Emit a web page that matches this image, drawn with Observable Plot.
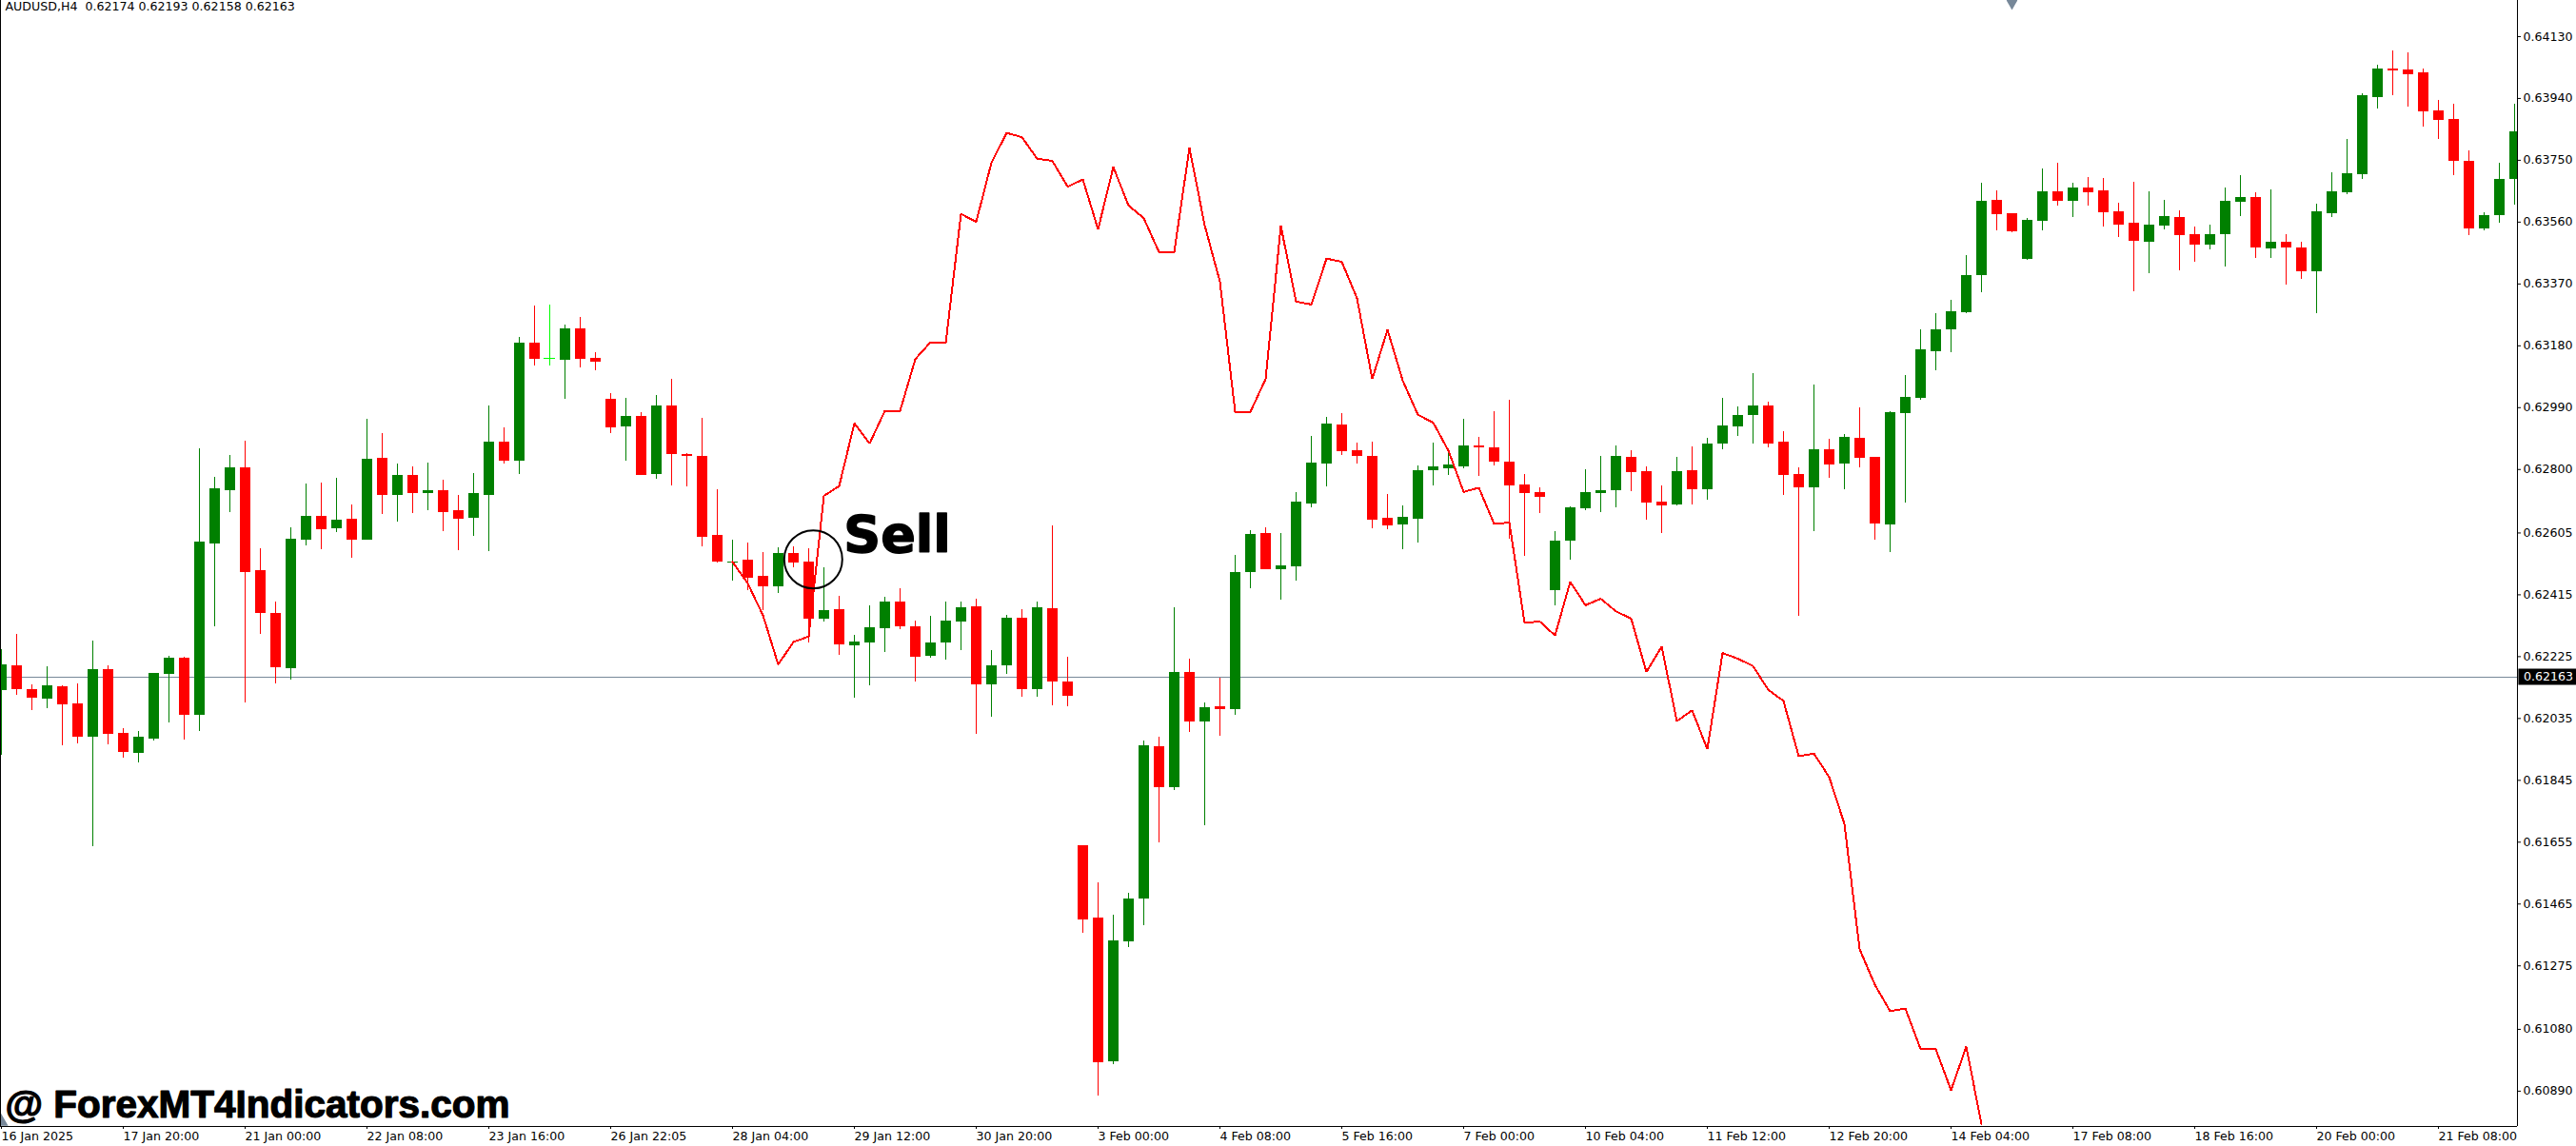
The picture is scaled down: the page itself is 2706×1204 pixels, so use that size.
<!DOCTYPE html>
<html>
<head>
<meta charset="utf-8">
<script src="https://cdn.jsdelivr.net/npm/d3@7"></script>
<script src="https://cdn.jsdelivr.net/npm/@observablehq/plot@0.6"></script>
<style>html,body{margin:0;padding:0;background:#fff}svg{display:block}</style>
</head>
<body>
<div id="chart"></div>
<script>
// All prices are in points (price x 100000); index = bar number.
const opens = [
62121,62197,62124,62094,62132,62080,61977,62185,61989,61928,
61971,62170,62220,62044,62571,62734,62805,62489,62358,62188,
62583,62656,62618,62646,62583,62834,62720,62782,62726,62734,
62673,62650,62720,62883,62826,63187,63140,63135,63231,63141,
63015,62931,62963,62784,62994,62845,62839,62597,62514,62522,
62472,62440,62541,62516,62340,62369,62258,62267,62311,62392,
62317,62226,62267,62331,62378,62138,62197,62342,62124,62373,
62147,61645,61422,60980,61348,61480,61948,61823,62176,62025,
62071,62062,62483,62603,62492,62501,62694,62816,62938,62857,
62839,62649,62630,62646,62795,62801,62807,62872,62866,62822,
62752,62729,62428,62579,62679,62726,62734,62837,62793,62700,
62690,62796,62738,62878,62931,62965,62994,62883,62784,62744,
62860,62816,62895,62837,62629,62971,63019,63162,63229,63282,
63397,63627,63586,63447,63563,63653,63625,63665,63657,63592,
63558,63499,63548,63575,63522,63490,63522,63621,63636,63478,
63499,63481,63408,63586,63651,63707,63944,64030,64028,64019,
63902,63875,63747,63540,63581,63692];
const highs = [
62247,62293,62138,62193,62136,62141,62273,62197,62004,61995,
62174,62226,62223,62864,62776,62843,62887,62556,62392,62621,
62755,62757,62772,62690,62954,62910,62816,62807,62820,62767,
62720,62787,62994,62927,63205,63302,63304,63243,63267,63158,
63032,63019,62975,63027,63076,62848,62956,62739,62583,62574,
62545,62560,62562,62556,62497,62411,62290,62381,62407,62434,
62334,62348,62392,62392,62401,62243,62352,62369,62392,62627,
62223,61645,61530,61431,61498,61965,61977,62375,62218,62082,
62159,62536,62611,62620,62603,62729,62901,62960,62971,62880,
62883,62722,62687,62810,62880,62858,62954,62898,62977,63013,
62784,62744,62609,62685,62799,62839,62872,62857,62807,62749,
62837,62870,62895,63019,62992,63094,63006,62916,62805,63059,
62893,62907,62989,62837,62977,63088,63229,63279,63321,63458,
63680,63657,63586,63571,63724,63741,63680,63697,63695,63619,
63682,63653,63627,63596,63546,63552,63665,63703,63651,63659,
63522,63499,63615,63712,63814,63955,64042,64086,64080,64030,
63934,63923,63779,63589,63741,63923];
const lows = [
61921,62107,62059,62065,61951,61958,61641,61954,61914,61899,
61966,62021,61969,61995,62317,62667,62082,62293,62141,62153,
62566,62553,62606,62527,62583,62661,62638,62665,62673,62609,
62550,62594,62547,62816,62784,63118,63118,63015,63112,63103,
62910,62826,62782,62770,62749,62746,62563,62512,62457,62429,
62367,62419,62497,62267,62331,62229,62097,62136,62237,62308,
62147,62220,62214,62243,61986,62039,62170,62101,62101,62074,
62071,61375,60875,60972,61331,61398,61653,61814,61992,61706,
61980,62044,62433,62492,62398,62457,62682,62747,62842,62816,
62617,62615,62553,62573,62751,62782,62802,62778,62811,62586,
62533,62665,62381,62522,62675,62667,62682,62732,62644,62603,
62688,62690,62705,62860,62901,62878,62866,62720,62348,62609,
62772,62738,62805,62583,62545,62696,63013,63104,63160,63279,
63344,63533,63527,63443,63533,63610,63575,63610,63546,63514,
63347,63403,63537,63411,63437,63475,63422,63577,63449,63449,
63367,63384,63279,63575,63645,63692,63908,63949,63913,63852,
63814,63703,63519,63533,63558,63613];
const closes = [
62199,62124,62097,62136,62077,61977,62185,61986,61931,61977,
62174,62220,62044,62577,62740,62805,62483,62358,62191,62585,
62656,62615,62644,62583,62831,62720,62782,62726,62734,62667,
62646,62726,62883,62826,63187,63138,63140,63231,63138,63130,
62927,62963,62782,62994,62845,62841,62591,62516,62517,62466,
62440,62541,62512,62340,62367,62262,62270,62314,62392,62317,
62223,62267,62334,62375,62138,62197,62342,62124,62375,62147,
62103,61417,60978,61352,61480,61951,61823,62176,62025,62068,
62062,62483,62600,62492,62504,62700,62820,62939,62855,62839,
62644,62627,62652,62795,62807,62814,62872,62867,62822,62749,
62726,62715,62579,62682,62729,62734,62839,62790,62696,62688,
62793,62738,62878,62933,62965,62994,62878,62782,62744,62860,
62814,62898,62834,62633,62975,63021,63168,63229,63285,63397,
63625,63583,63531,63566,63653,63625,63665,63651,63589,63552,
63502,63552,63577,63519,63490,63522,63625,63636,63481,63499,
63481,63408,63592,63653,63709,63949,64030,64026,64013,63900,
63873,63747,63540,63581,63692,63837];

// Indicator line, one value per bar starting at lineStartBar
const lineStartBar = 48;
const lineValues = [
62516,62450,62352,62201,62270,62287,62719,62749,62942,62880,
62980,62980,63139,63191,63189,63585,63561,63743,63834,63821,
63755,63748,63669,63691,63538,63729,63611,63572,63468,63468,
63788,63550,63377,62977,62977,63078,63548,63316,63307,63448,
63438,63326,63078,63229,63073,62968,62944,62858,62731,62744,
62633,62637,62329,62333,62290,62455,62383,62403,62364,62342,
62178,62256,62027,62060,61941,62236,62219,62196,62123,62089,
61919,61927,61855,61711,61326,61217,61136,61144,61019,61019,
60893,61027,60788];

const priceTicks = [64130,63940,63750,63560,63370,63180,62990,62800,62605,62415,62225,62035,61845,61655,61465,61275,61080,60890];
const currentPrice = 62163;
const dateTickBars = [0,8,16,24,32,40,48,56,64,72,80,88,96,104,112,120,128,136,144,152,160];
const dateLabels = ["16 Jan 2025","17 Jan 20:00","21 Jan 00:00","22 Jan 08:00","23 Jan 16:00","26 Jan 22:05","28 Jan 04:00","29 Jan 12:00","30 Jan 20:00","3 Feb 00:00","4 Feb 08:00","5 Feb 16:00","7 Feb 00:00","10 Feb 04:00","11 Feb 12:00","12 Feb 20:00","14 Feb 04:00","17 Feb 08:00","18 Feb 16:00","20 Feb 00:00","21 Feb 08:00"];

const headerText = "AUDUSD,H4  0.62174 0.62193 0.62158 0.62163";
const watermark = "@ ForexMT4Indicators.com";
const sellLabel = [{bar: 55.3, price: 62545, text: "Sell"}];
const sellCircle = [{bar: 53.3, price: 62524}];
const shiftMarker = [{bar: 132, price: 64241}];
const cornerMarker = [{bar: -0.0625, price: 60797}];

const xDomain = [-0.0625, 165.1875];
const yDomain = [60781.5, 64241];
const fmt = d => (d / 100000).toFixed(5);
const GREEN = "#008000", RED = "#ff0000", LIME = "#00ff00", GRID = "#778899";
const UI = "DejaVu Sans";
const CRISP = "crispEdges";

const candles = opens.map((o, i) => ({
  bar: i, open: o, high: highs[i], low: lows[i], close: closes[i],
  color: closes[i] === o ? LIME : closes[i] > o ? GREEN : RED
}));
const line = lineValues.map((v, i) => ({bar: i + lineStartBar, value: v}));
const solid = candles.filter(d => d.open !== d.close);
const flat = candles.filter(d => d.open === d.close);

const chart = Plot.plot({
  width: 2706, height: 1204,
  marginLeft: 0, marginRight: 62, marginTop: 0, marginBottom: 21,
  style: {fontFamily: UI, fontSize: "12.6px", background: "#fff", color: "#000"},
  x: {type: "linear", domain: xDomain, axis: null},
  y: {type: "linear", domain: yDomain, axis: null},
  color: {type: "identity"},
  marks: [
    Plot.ruleY([currentPrice], {stroke: GRID, strokeWidth: 1, shapeRendering: CRISP}),
    Plot.ruleX(candles, {x: "bar", y1: "low", y2: "high", stroke: "color", strokeWidth: 1, shapeRendering: CRISP, clip: true}),
    Plot.ruleX(solid, {x: "bar", y1: "open", y2: "close", stroke: "color", strokeWidth: 11, shapeRendering: CRISP, clip: true}),
    Plot.ruleY(flat, {y: "open", x1: d => d.bar - 0.35, x2: d => d.bar + 0.35, stroke: "color", strokeWidth: 1, shapeRendering: CRISP, clip: true}),
    Plot.line(line, {x: "bar", y: "value", stroke: RED, strokeWidth: 2, curve: "linear", strokeLinejoin: "miter", shapeRendering: CRISP, clip: true}),
    Plot.dot(sellCircle, {x: "bar", y: "price", r: 30.5, stroke: "#000", strokeWidth: 2, fill: "none"}),
    Plot.text(sellLabel, {x: "bar", y: "price", text: "text", textAnchor: "start", lineAnchor: "bottom", fontFamily: "DejaVu Sans", fontWeight: 900, fontSize: 54, fill: "#000", stroke: "#000", strokeWidth: 1.5}),
    Plot.dot(shiftMarker, {x: "bar", y: "price", symbol: "diamond", r: 6, fill: GRID, clip: true}),
    Plot.dot(cornerMarker, {x: "bar", y: "price", symbol: "triangle", r: 6, fill: GRID, clip: true}),
    Plot.ruleY([yDomain[0]], {stroke: "#000", strokeWidth: 1, shapeRendering: CRISP}),
    Plot.ruleX([xDomain[0], xDomain[1]], {stroke: "#000", strokeWidth: 1, shapeRendering: CRISP}),
    Plot.axisY({anchor: "right", ticks: priceTicks, tickFormat: fmt, tickSize: 3, tickPadding: 3, label: null}),
    Plot.axisX({anchor: "bottom", ticks: dateTickBars, tickFormat: d => dateLabels[dateTickBars.indexOf(d)], textAnchor: "start", tickSize: 3, tickPadding: 3, label: null}),
    Plot.ruleY([currentPrice], {x1: xDomain[1] + 0.09, x2: xDomain[1] + 3.9, stroke: "#000", strokeWidth: 17}),
    Plot.text([currentPrice], {x: xDomain[1] + 0.4, y: d => d, text: fmt, textAnchor: "start", fill: "#fff"}),
    Plot.text([headerText], {frameAnchor: "top-left", dx: 5, dy: 2, lineAnchor: "top", textAnchor: "start"}),
    Plot.text([watermark], {frameAnchor: "bottom-left", dx: 5, dy: -10, lineAnchor: "bottom", textAnchor: "start", fontFamily: "Liberation Sans", fontWeight: 700, fontSize: 40.5, fill: "#000", stroke: "#000", strokeWidth: 1.2})
  ]
});
document.getElementById("chart").appendChild(chart);
</script>
</body>
</html>
